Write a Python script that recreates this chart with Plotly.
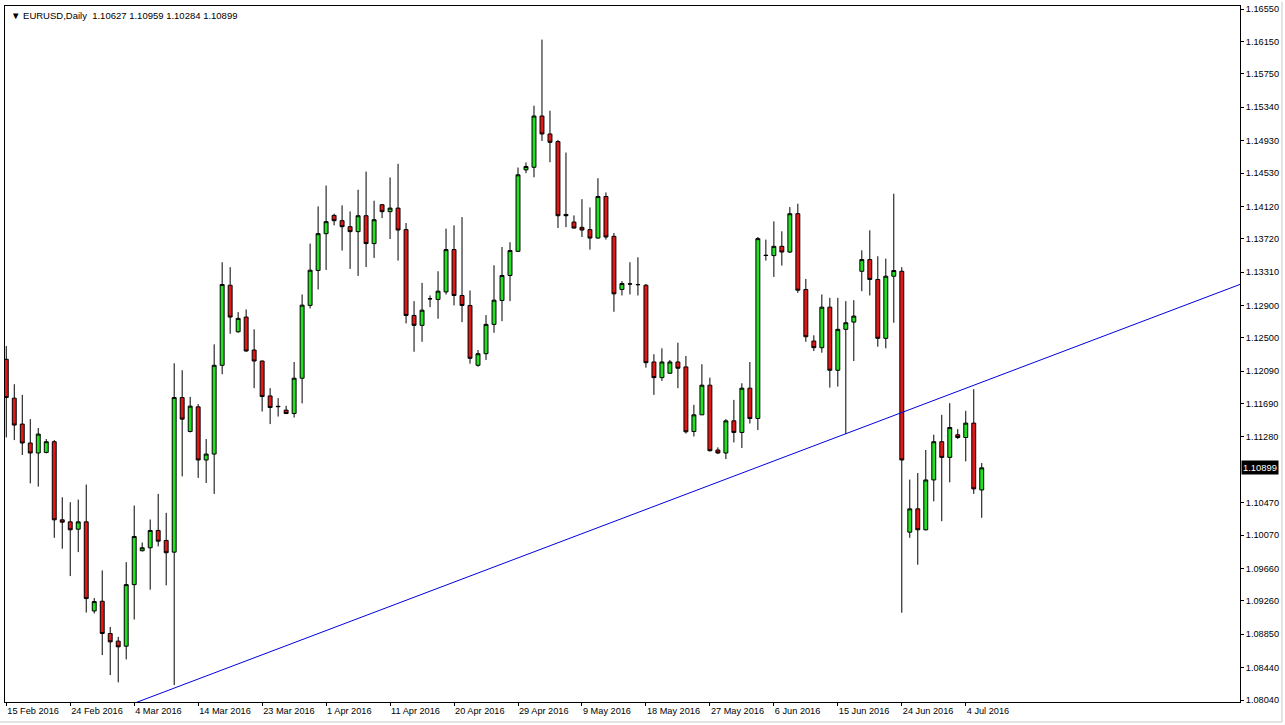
import datetime as dt
import plotly.graph_objects as go

# ---- data (EURUSD daily) ----
start_date = dt.date(2016, 2, 15)
n_bars = 123
dates = []
d = start_date
while len(dates) < n_bars:
    if d.weekday() != 5:          # broker feed has Sunday bars, no Saturday bars
        dates.append(d.isoformat())
    d += dt.timedelta(days=1)

opens = [1.12236, 1.11757, 1.11438, 1.11205, 1.11082, 1.11089, 1.11221, 1.10259, 1.10234, 1.10144,
         1.10234, 1.09137, 1.09256, 1.08859, 1.08765, 1.08703, 1.09461, 1.09878, 1.09915, 1.10128,
         1.10005, 1.09861, 1.11765, 1.11347, 1.11650, 1.10996, 1.11069, 1.12162, 1.13148, 1.12575,
         1.12756, 1.12350, 1.12215, 1.11785, 1.11657, 1.11610, 1.11568, 1.12003, 1.12900, 1.13330,
         1.13783, 1.14008, 1.13943, 1.13869, 1.13808, 1.14004, 1.13661, 1.14140, 1.14054, 1.14098,
         1.13833, 1.12776, 1.12654, 1.12980, 1.12973, 1.13066, 1.13587, 1.13022, 1.12899, 1.12162,
         1.12305, 1.12666, 1.12960, 1.13268, 1.13566, 1.14569, 1.14601, 1.15232, 1.15011, 1.14917,
         1.14020, 1.13926, 1.13861, 1.13833, 1.13729, 1.14241, 1.13750, 1.13096, 1.13165, 1.13157,
         1.13148, 1.12203, 1.12010, 1.12064, 1.12203, 1.12142, 1.11347, 1.11552, 1.11917, 1.11119,
         1.11082, 1.11478, 1.11335, 1.11880, 1.11507, 1.13517, 1.13513, 1.13627, 1.13557, 1.14029,
         1.13096, 1.12461, 1.12379, 1.12878, 1.12101, 1.12605, 1.12694, 1.13320, 1.13464, 1.13219,
         1.12494, 1.13259, 1.13320, 1.10107, 1.10394, 1.10136, 1.10750, 1.11221, 1.11028, 1.11307,
         1.11273, 1.11450, 1.10627]
highs = [1.12399, 1.11929, 1.11798, 1.11499, 1.11389, 1.11254, 1.11241, 1.10537, 1.10475, 1.10508,
         1.10693, 1.09296, 1.09636, 1.08940, 1.08817, 1.09738, 1.10435, 1.09980, 1.10263, 1.10578,
         1.10345, 1.12187, 1.12101, 1.11773, 1.11684, 1.11254, 1.12420, 1.13431, 1.13370, 1.12817,
         1.12850, 1.12605, 1.12220, 1.11880, 1.11757, 1.11663, 1.12203, 1.13034, 1.13661, 1.14119,
         1.14376, 1.14029, 1.14131, 1.14057, 1.14324, 1.14548, 1.14189, 1.14145, 1.14475, 1.14643,
         1.13914, 1.12952, 1.13177, 1.13022, 1.13320, 1.13845, 1.13885, 1.13987, 1.13083, 1.12350,
         1.12780, 1.13394, 1.13619, 1.13677, 1.14598, 1.14659, 1.15359, 1.16173, 1.15297, 1.14938,
         1.14782, 1.14008, 1.14208, 1.14106, 1.14466, 1.14291, 1.13791, 1.13198, 1.13431, 1.13492,
         1.13164, 1.12298, 1.12371, 1.12228, 1.12440, 1.12277, 1.11675, 1.12175, 1.12010, 1.11151,
         1.11499, 1.11736, 1.11941, 1.12203, 1.13742, 1.13710, 1.13934, 1.13812, 1.14110, 1.14152,
         1.13226, 1.12531, 1.13034, 1.12993, 1.12993, 1.12952, 1.12964, 1.13578, 1.13824, 1.13505,
         1.13476, 1.14275, 1.13370, 1.10754, 1.10836, 1.11119, 1.11307, 1.11552, 1.11696, 1.11376,
         1.11601, 1.11868, 1.10959]
lows = [1.11273, 1.11241, 1.11057, 1.10708, 1.10668, 1.11077, 1.10038, 1.09903, 1.09566, 1.09861,
        1.09117, 1.09105, 1.08593, 1.08347, 1.08257, 1.08540, 1.09031, 1.09870, 1.09399, 1.09931,
        1.09452, 1.08224, 1.10794, 1.11335, 1.10775, 1.10713, 1.10578, 1.12052, 1.12550, 1.12563,
        1.12329, 1.11880, 1.11593, 1.11438, 1.11531, 1.11561, 1.11519, 1.11693, 1.12862, 1.13096,
        1.13336, 1.13885, 1.13575, 1.13349, 1.13263, 1.13373, 1.13484, 1.13975, 1.13717, 1.13452,
        1.12678, 1.12329, 1.12452, 1.12878, 1.12735, 1.13034, 1.12899, 1.12694, 1.12182, 1.12145,
        1.12228, 1.12563, 1.12706, 1.12952, 1.13557, 1.14528, 1.14478, 1.14925, 1.14663, 1.13852,
        1.13864, 1.13845, 1.13742, 1.13587, 1.13722, 1.13710, 1.12821, 1.13022, 1.13034, 1.13022,
        1.12133, 1.11798, 1.11970, 1.12059, 1.11880, 1.11322, 1.11286, 1.11550, 1.11101, 1.11069,
        1.11008, 1.11212, 1.11143, 1.11445, 1.11364, 1.13452, 1.13250, 1.13390, 1.13545, 1.13054,
        1.12452, 1.12338, 1.12317, 1.11887, 1.11900, 1.11315, 1.12215, 1.13075, 1.13022, 1.12391,
        1.12371, 1.12686, 1.09115, 1.10038, 1.09706, 1.10128, 1.10487, 1.10242, 1.10721, 1.11254,
        1.10979, 1.10578, 1.10284]
closes = [1.11765, 1.11426, 1.11205, 1.11082, 1.11315, 1.11221, 1.10259, 1.10230, 1.10136, 1.10234,
          1.09289, 1.09252, 1.08859, 1.08756, 1.08695, 1.09461, 1.10054, 1.09915, 1.10128, 1.09996,
          1.09854, 1.11765, 1.11499, 1.11659, 1.10996, 1.11069, 1.12162, 1.13157, 1.12756, 1.12740,
          1.12338, 1.12215, 1.11777, 1.11642, 1.11653, 1.11568, 1.12003, 1.12903, 1.13333, 1.13783,
          1.13931, 1.13943, 1.13869, 1.13808, 1.14004, 1.13661, 1.13955, 1.14054, 1.14098, 1.13828,
          1.12776, 1.12654, 1.12841, 1.12982, 1.13075, 1.13587, 1.13022, 1.12899, 1.12248, 1.12305,
          1.12666, 1.12964, 1.13268, 1.13575, 1.14508, 1.14610, 1.15232, 1.15011, 1.14908, 1.14004,
          1.14004, 1.13852, 1.13828, 1.13729, 1.14241, 1.13742, 1.13042, 1.13169, 1.13163, 1.13155,
          1.12194, 1.12010, 1.12203, 1.12203, 1.12126, 1.11343, 1.11552, 1.11917, 1.11110, 1.11082,
          1.11478, 1.11335, 1.11880, 1.11507, 1.13722, 1.13515, 1.13627, 1.13557, 1.14029, 1.13087,
          1.12514, 1.12379, 1.12878, 1.12101, 1.12605, 1.12686, 1.12768, 1.13464, 1.13219, 1.12494,
          1.13259, 1.13329, 1.10996, 1.10394, 1.10136, 1.10750, 1.11221, 1.11028, 1.11396, 1.11273,
          1.11450, 1.10640, 1.10899]

tick_dates = ["2016-02-15", "2016-02-24", "2016-03-04", "2016-03-14", "2016-03-23", "2016-04-01",
              "2016-04-11", "2016-04-20", "2016-04-29", "2016-05-09", "2016-05-18", "2016-05-27",
              "2016-06-06", "2016-06-15", "2016-06-24", "2016-07-04"]
tick_labels = ["15 Feb 2016", "24 Feb 2016", "4 Mar 2016", "14 Mar 2016", "23 Mar 2016", "1 Apr 2016",
               "11 Apr 2016", "20 Apr 2016", "29 Apr 2016", "9 May 2016", "18 May 2016", "27 May 2016",
               "6 Jun 2016", "15 Jun 2016", "24 Jun 2016", "4 Jul 2016"]
price_ticks = [1.16550, 1.16150, 1.15750, 1.15340, 1.14930, 1.14530, 1.14120, 1.13720, 1.13310,
               1.12900, 1.12500, 1.12090, 1.11690, 1.11280, 1.10470, 1.10070, 1.09660, 1.09260,
               1.08850, 1.08440, 1.08040]

# trend line anchors (bar index on the category axis, price)
trend_x = [16.0, 154.3]
trend_p = [1.08000, 1.13158]

symbol_title = "EURUSD,Daily"
last_price = closes[-1]

# ---- figure ----
FONT = "Liberation Sans, Arial, sans-serif"

fig = go.Figure()
fig.add_trace(go.Candlestick(
    x=dates, open=opens, high=highs, low=lows, close=closes,
    increasing=dict(line=dict(color="#000000", width=1), fillcolor="#22e022"),
    decreasing=dict(line=dict(color="#000000", width=1), fillcolor="#e01818"),
    whiskerwidth=0,
    showlegend=False,
    hoverinfo="x+y",
))

fig.add_shape(type="line", xref="x", yref="y",
              x0=trend_x[0], y0=trend_p[0], x1=trend_x[1], y1=trend_p[1],
              line=dict(color="#0000e0", width=1))

# window frame (light gray) at the right and bottom edges of the picture
fig.add_shape(type="line", xref="paper", yref="paper", x0=1.03398, x1=1.03398, y0=-0.0287, y1=1.006,
              line=dict(color="#c8c8c8", width=1))
fig.add_shape(type="line", xref="paper", yref="paper", x0=-0.004, x1=1.03398, y0=-0.0287, y1=-0.0287,
              line=dict(color="#c8c8c8", width=1))

header = ("\u25BC " + symbol_title + "  " +
          " ".join(f"{v:.5f}" for v in (opens[-1], highs[-1], lows[-1], closes[-1])))
fig.add_annotation(xref="paper", yref="paper", x=0, y=1, xanchor="left", yanchor="top",
                   xshift=4, yshift=-2, text=header, showarrow=False,
                   font=dict(family=FONT, size=9.5, color="#000000"))

fig.add_annotation(xref="paper", yref="y", x=1, y=last_price, xanchor="left", yanchor="middle",
                   xshift=1, text=f"{last_price:.5f}", showarrow=False,
                   bgcolor="#000000", borderpad=1,
                   font=dict(family=FONT, size=9.4, color="#ffffff"))

fig.update_layout(
    width=1285, height=725,
    margin=dict(l=4, r=45, t=4, b=23),
    paper_bgcolor="#ffffff", plot_bgcolor="#ffffff",
    font=dict(family=FONT, size=9.2, color="#000000"),
    boxgap=0.3,
    xaxis=dict(
        type="category",
        range=[-0.16, 154.3],
        rangeslider=dict(visible=False),
        tickmode="array", tickvals=tick_dates, ticktext=tick_labels,
        ticklabelposition="outside right",
        ticks="outside", ticklen=3, tickcolor="#000000",
        showgrid=False, zeroline=False,
        showline=True, linecolor="#000000", linewidth=1, mirror=True,
    ),
    yaxis=dict(
        side="right",
        range=[1.080154, 1.165869],
        tickmode="array", tickvals=price_ticks,
        ticktext=[f"{v:.5f}" for v in price_ticks],
        ticks="outside", ticklen=3, tickcolor="#000000",
        showgrid=False, zeroline=False,
        showline=True, linecolor="#000000", linewidth=1, mirror=True,
    ),
)

fig.write_html("out.html", config={"displayModeBar": False},
               post_script="document.body.style.margin='0';document.body.style.overflow='hidden';")
